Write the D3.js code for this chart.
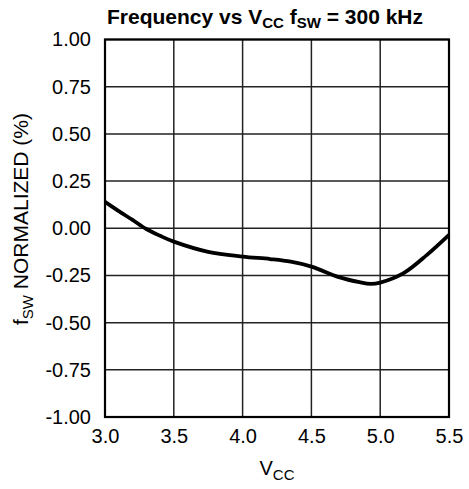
<!DOCTYPE html>
<html>
<head>
<meta charset="utf-8">
<script src="https://cdn.jsdelivr.net/npm/d3@7"></script>
<style>
  body { margin: 0; background: #fff; }
  text { font-family: "Liberation Sans", Arial, sans-serif; fill: #000; }
</style>
</head>
<body>
<svg id="chart" width="469" height="489"></svg>
<script>
// values
var vcc = [3.0, 3.1, 3.2, 3.3, 3.4, 3.5, 3.75, 4.0, 4.2, 4.35, 4.5, 4.7, 4.85, 4.93, 5.0, 5.17, 5.34, 5.5]
var fswNorm = [0.14, 0.091, 0.044, -0.004, -0.040, -0.071, -0.125, -0.150, -0.163, -0.177, -0.203, -0.259, -0.286, -0.295, -0.288, -0.238, -0.141, -0.035]

var xTicks = [3.0, 3.5, 4.0, 4.5, 5.0, 5.5]
var yTicks = [1.00, 0.75, 0.50, 0.25, 0.00, -0.25, -0.50, -0.75, -1.00]

var margin = {left: 105, right: 20, top: 39.5, bottom: 72}
var w = 469 - margin.left - margin.right,
    h = 489 - margin.top - margin.bottom

var svg = d3.select('#chart')
var g = svg.append('g')
    .attr('transform', 'translate(' + margin.left + ',' + margin.top + ')')

var x = d3.scaleLinear().domain([3.0, 5.5]).range([0, w])
var y = d3.scaleLinear().domain([-1, 1]).range([h, 0])

// grid
g.selectAll('.vgrid').data(xTicks).enter().append('line')
    .attr('x1', function(d) { return x(d) }).attr('x2', function(d) { return x(d) })
    .attr('y1', 0).attr('y2', h)
    .attr('stroke', '#222').attr('stroke-width', 1.5)

g.selectAll('.hgrid').data(yTicks).enter().append('line')
    .attr('y1', function(d) { return y(d) }).attr('y2', function(d) { return y(d) })
    .attr('x1', 0).attr('x2', w)
    .attr('stroke', '#222').attr('stroke-width', 1.5)

g.append('rect')
    .attr('width', w).attr('height', h)
    .attr('fill', 'none').attr('stroke', '#000').attr('stroke-width', 2.2)

// axes (labels only), plain hyphen for negatives
var xAxis = g.append('g')
    .attr('transform', 'translate(0,' + h + ')')
    .call(d3.axisBottom(x).tickValues(xTicks)
      .tickFormat(function(d) { return d.toFixed(1) }).tickSize(0).tickPadding(12))
var yAxis = g.append('g')
    .call(d3.axisLeft(y).tickValues(yTicks)
      .tickFormat(function(d) { return d.toFixed(2) }).tickSize(0).tickPadding(14))

;[xAxis, yAxis].forEach(function(a) {
  a.select('.domain').remove()
  a.selectAll('text')
      .style('font-family', '"Liberation Sans", Arial, sans-serif')
      .style('font-size', '20px')
      .attr('fill', '#000')
})

// curve
var line = d3.line()
    .x(function(d) { return x(d[0]) })
    .y(function(d) { return y(d[1]) })
    .curve(d3.curveCatmullRom.alpha(0.5))

g.append('path')
    .datum(d3.zip(vcc, fswNorm))
    .attr('d', line)
    .attr('fill', 'none')
    .attr('stroke', '#000')
    .attr('stroke-width', 3.8)

// title
var title = svg.append('text')
    .attr('x', 265).attr('y', 23.5)
    .attr('text-anchor', 'middle')
    .style('font-size', '21px').style('font-weight', 'bold')
title.append('tspan').text('Frequency vs V')
title.append('tspan').text('CC').attr('dy', 4).style('font-size', '15px')
title.append('tspan').text(' f').attr('dy', -4)
title.append('tspan').text('SW').attr('dy', 4).style('font-size', '15px')
title.append('tspan').text(' = 300 kHz').attr('dy', -4)

// x label
var xl = svg.append('text')
    .attr('x', 277).attr('y', 475)
    .attr('text-anchor', 'middle')
    .style('font-size', '20px')
xl.append('tspan').text('V')
xl.append('tspan').text('CC').attr('dy', 5).style('font-size', '15px')

// y label
var yl = svg.append('text')
    .attr('transform', 'translate(28,219) rotate(-90)')
    .attr('text-anchor', 'middle')
    .style('font-size', '21px')
yl.append('tspan').text('f')
yl.append('tspan').text('SW').attr('dy', 5).style('font-size', '15px')
yl.append('tspan').text(' NORMALIZED (%)').attr('dy', -5)
</script>
</body>
</html>
